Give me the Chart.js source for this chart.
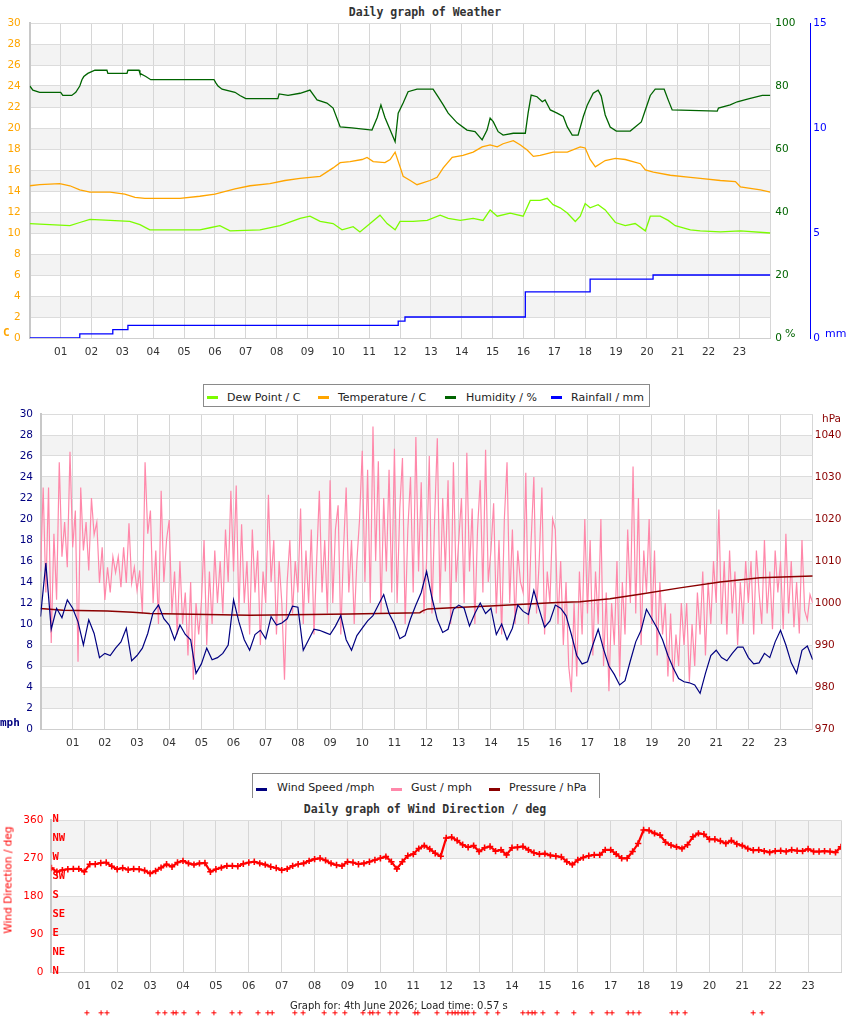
<!DOCTYPE html>
<html>
<head>
<meta charset="utf-8">
<title>Daily graph of Weather</title>
<script src="https://cdn.jsdelivr.net/npm/chart.js@4.4.1/dist/chart.umd.min.js"></script>
<style>
  body { margin: 0; background: #fff; font-family: 'DejaVu Sans', sans-serif; }
  #page { position: relative; width: 850px; height: 1017px; overflow: hidden; }
  canvas { position: absolute; left: 0; }
  .titulo { position: absolute; left: 0; width: 850px; text-align: center; font: bold 11.5px 'DejaVu Sans Mono', monospace; line-height: 13px; color: #333; }
  .legenda { position: absolute; box-sizing: border-box; background: #fff; border: 1px solid #8a8a8a; font-size: 11px; line-height: 13px; color: #222; }
  .legenda span { position: absolute; white-space: nowrap; }
  .legenda i { position: absolute; width: 11px; height: 3px; }
  .unid { position: absolute; font-size: 11px; line-height: 13px; font-weight: normal; white-space: nowrap; }
</style>
</head>
<body>
<div id="page">
  <div class="titulo" style="top:6px">Daily graph of Weather</div>
  <canvas id="chartTempo" width="850" height="365" style="top:0"></canvas>
  <div class="unid" style="left:3px;top:326px;color:#ffa500;font-weight:bold;font-family:'DejaVu Sans Mono'">C</div>
  <div class="unid" style="left:785px;top:327px;color:#006400">%</div>
  <div class="unid" style="left:825px;top:327px;color:#0000ff">mm</div>

  <canvas id="chartVento" width="850" height="360" style="top:400px"></canvas>
  <div class="unid" style="left:0;top:716px;color:#000080;font-weight:bold;font-family:'DejaVu Sans Mono'">mph</div>
  <div class="unid" style="left:822px;top:412px;color:#8b0000;font-size:10.5px">hPa</div>

  <div class="legenda" style="left:203px;top:384px;width:447px;height:23px">
    <i style="left:3px;top:11px;background:#7cfc00"></i><span style="left:23px;top:6px">Dew Point / C</span>
    <i style="left:114px;top:11px;background:#ffa500"></i><span style="left:134px;top:6px">Temperature / C</span>
    <i style="left:241px;top:11px;background:#006400"></i><span style="left:262px;top:6px">Humidity / %</span>
    <i style="left:347px;top:11px;background:#0000ff"></i><span style="left:367px;top:6px">Rainfall / mm</span>
  </div>

  <div class="legenda" style="left:252px;top:773px;width:348px;height:25px;border-bottom:none">
    <i style="left:3px;top:14px;background:#000080"></i><span style="left:24px;top:7px">Wind Speed /mph</span>
    <i style="left:138px;top:14px;background:#ff88aa"></i><span style="left:158px;top:7px">Gust / mph</span>
    <i style="left:236px;top:14px;background:#8b0000"></i><span style="left:256px;top:7px">Pressure / hPa</span>
  </div>

  <div class="titulo" style="top:803px">Daily graph of Wind Direction / deg</div>
  <canvas id="chartDirecao" width="850" height="212" style="top:805px"></canvas>
  <div class="unid" style="left:8px;top:880px;color:#f00;font-size:10.5px;transform:translate(-50%,-50%) rotate(-90deg)">Wind Direction / deg</div>
  <div class="unid" style="left:290px;top:999px;color:#222;font-size:10px">Graph for: 4th June 2026; Load time: 0.57 s</div>
</div>

<script>
const hourLabels = ['01','02','03','04','05','06','07','08','09','10','11','12','13','14','15','16','17','18','19','20','21','22','23']

// Painel 1 - [hora, valor]
const dewPoint = [[0,10.9],[0.65,10.8],[1.3,10.7],[1.62,11.0],[1.95,11.3],[2.6,11.2],[3.24,11.1],[3.57,10.8],[3.89,10.3],[5.51,10.3],[5.84,10.5],[6.16,10.7],[6.49,10.2],[7.46,10.3],[8.11,10.7],[8.76,11.4],[9.08,11.6],[9.41,11.1],[9.83,10.9],[10.12,10.3],[10.48,10.6],[10.7,10.1],[11.03,10.9],[11.35,11.7],[11.58,10.9],[11.84,10.3],[12.0,11.1],[12.42,11.1],[12.88,11.2],[13.3,11.7],[13.56,11.4],[13.95,11.2],[14.37,11.4],[14.69,11.2],[14.92,12.2],[15.15,11.6],[15.57,11.9],[15.99,11.6],[16.22,13.1],[16.54,13.1],[16.77,13.3],[16.96,12.7],[17.19,12.4],[17.42,11.9],[17.68,11.1],[17.84,11.6],[18.0,12.8],[18.16,12.4],[18.42,12.7],[18.65,12.2],[18.98,11.0],[19.3,10.7],[19.62,10.9],[19.95,10.2],[20.11,11.6],[20.43,11.6],[20.69,11.2],[20.92,10.7],[21.41,10.3],[21.73,10.2],[22.38,10.1],[23.03,10.2],[24,10.0]]
const temperature = [[0,14.5],[0.32,14.6],[0.97,14.7],[1.3,14.5],[1.62,14.1],[1.95,13.9],[2.6,13.9],[3.08,13.7],[3.41,13.4],[3.73,13.3],[4.87,13.3],[5.51,13.5],[6.0,13.7],[6.65,14.2],[7.14,14.5],[7.78,14.7],[8.27,15.0],[8.76,15.2],[9.41,15.4],[9.83,16.2],[10.06,16.7],[10.38,16.8],[10.77,17.0],[10.93,17.2],[11.13,16.8],[11.51,16.7],[11.68,17.0],[11.84,17.7],[12.0,16.3],[12.1,15.4],[12.33,15.0],[12.55,14.6],[12.97,15.0],[13.2,15.3],[13.4,16.2],[13.69,17.2],[14.04,17.4],[14.37,17.7],[14.66,18.2],[14.92,18.4],[15.15,18.2],[15.34,18.5],[15.67,18.8],[15.89,18.4],[16.12,17.9],[16.32,17.3],[16.54,17.4],[16.96,17.7],[17.42,17.7],[17.84,18.2],[18.0,18.1],[18.16,17.0],[18.33,16.3],[18.65,16.9],[18.98,17.1],[19.3,17.0],[19.79,16.6],[19.95,16.0],[20.21,15.8],[20.76,15.5],[21.41,15.3],[21.73,15.2],[22.38,15.0],[22.87,14.9],[23.03,14.4],[23.68,14.1],[24,13.9]]
const humidity = [[0,80],[0.1,78.7],[0.32,78],[1.0,78],[1.07,77],[1.36,77],[1.49,78],[1.62,80],[1.69,82],[1.75,83],[1.88,84],[2.11,85],[2.5,85],[2.53,84],[3.15,84],[3.18,85],[3.54,85],[3.57,84],[3.76,83],[3.92,82],[5.97,82],[6.03,81],[6.1,80],[6.23,79],[6.65,78],[6.81,77],[7.0,76],[8.04,76],[8.08,77.5],[8.37,77],[8.76,77.7],[9.08,78.7],[9.31,75.6],[9.63,74.6],[9.83,73],[10.06,67],[10.44,66.7],[11.09,66],[11.26,70],[11.38,74],[11.51,70],[11.68,66],[11.84,62.3],[11.94,71.4],[12.1,74.6],[12.26,78.2],[12.55,79],[13.07,79],[13.23,76.6],[13.4,74],[13.56,71.4],[13.85,68.3],[14.17,66],[14.43,65.5],[14.66,62.9],[14.82,66],[14.92,69.8],[15.02,68.7],[15.18,65.5],[15.34,64.4],[15.67,65],[16.06,65],[16.15,71.4],[16.25,77.1],[16.44,76.6],[16.61,75],[16.7,75.6],[16.87,72.4],[17.09,71.4],[17.29,70.3],[17.42,67],[17.58,64.4],[17.77,64.4],[17.94,70.3],[18.07,74],[18.26,77.7],[18.42,78.7],[18.52,76.8],[18.65,70.8],[18.81,67],[19.01,65.7],[19.46,65.7],[19.66,67.3],[19.82,68.6],[19.95,72.4],[20.11,77],[20.27,79],[20.56,79],[20.69,75.6],[20.82,72.4],[22.28,72],[22.32,73],[22.7,74],[22.93,75],[23.32,76],[23.74,77],[24,77]]
const rainfall = [[0,0],[1.62,0.2],[2.69,0.4],[3.18,0.6],[11.94,0.8],[12.16,1.0],[16.06,2.2],[18.16,2.8],[20.2,3.0],[24,3.0]]

// Painel 2 - rajada a cada 5 min, vento a cada 10 min
const gust = [
  15,23,13,23,8.2,18.6,12.3,25.4,16.4,19.7,15.4,26.4,
  17.3,20.8,6.4,23,17,19.7,15.1,22,18.5,19.7,13.9,17.3,
  12.3,15.4,13,16.4,14.9,16.4,13.5,17.3,13.9,19.6,13.9,15.4,
  13.2,15.1,11,25.4,18.6,20.8,12,17,10,22.7,14,18,
  19.9,11,15,9,16,10,13,7,14,4.7,12,9,
  12,18,8,15,10,17,12,16,11,19,14,22.7,
  15,23.2,11,19.5,12,16,9,19,13,17,8,15,
  12,22.3,14,18,9,16,12,4.7,14,18,11,16,
  13,21,10,17,12,19,9,16,22.7,13,18,11,
  23.7,12,19,21.3,9,17,23,13,18,10,16,20,
  26.5,14,24.7,12,28.8,16,25.5,11,22,15,24.7,13,
  26.7,12,21,25.8,10,19,24,13,27.8,15,23.5,11,
  16,26,11,20,27.7,12,22,15,23.7,10,25.4,14,
  18,22,12,26.3,15,21,10,19,23.7,13,26.6,14,
  17,21.5,11,18,9,20,25.4,12,19,10,17,14,
  13,24.4,10,18,24,11,16,23,9,15,12,20,
  19,10,16,8,14,6,3.5,12,5,15,9,20,
  11,18,7,15,10,20,6,13,3.6,12,8,16,
  5,14,9,19,12,25,11,22,8,17,13,20,
  10,17,7,14,9,12,5,11,4.5,9,6,12,
  8,12,4.5,10,6,13,9,15,7,14,10,16,
  12,20.9,10,16,9,17,11,15,8,14,10,16,
  12,16,9,17,13,10,18,11,15,9.5,17,13,
  16,9.5,18.6,11,16,9.7,14,9.1,18,11.3,10.4,12.8,
  12
]
const windSpeed = [
  10.7,15.8,9.5,11.5,10.6,12.3,
  11.5,10.2,8.0,10.4,9.1,6.8,
  7.2,7.0,7.7,8.3,9.6,6.5,
  7.0,7.7,9.1,11.1,11.8,10.5,
  9.9,8.5,9.9,9.0,8.5,5.3,
  6.2,7.7,6.6,6.8,7.2,8.0,
  12.3,10.2,8.5,7.5,9.0,9.4,
  8.6,10.7,9.9,10.1,10.5,11.7,
  11.6,7.5,8.5,9.5,9.4,9.2,
  9.0,9.8,10.8,8.5,7.5,8.9,
  9.6,10.3,10.8,11.8,12.8,11.0,
  10.0,8.6,8.9,10.5,11.8,13.0,
  15.0,12.5,10.4,9.2,9.5,11.4,
  11.8,11.5,9.8,11.0,12.0,11.0,
  11.5,9.0,10.0,8.5,9.6,11.8,
  11.2,10.9,13.2,11.4,9.7,10.3,
  11.8,11.5,10.8,9.0,7.0,6.2,
  6.4,8.0,9.5,7.6,6.0,5.2,
  4.2,4.6,6.5,8.3,9.4,11.4,
  10.5,9.6,8.5,7.0,5.8,4.8,
  4.5,4.4,4.2,3.4,5.3,7.0,
  7.5,6.8,6.5,7.2,7.8,7.8,
  6.8,6.2,6.3,7.2,6.8,8.3,
  9.4,8.0,6.3,5.3,7.5,7.9,
  6.6
]
const pressure = [[0,998.7],[0.7,998.3],[2.07,998.1],[2.87,997.8],[3.4,997.5],[6.51,997.1],[9.62,997.4],[11.79,997.7],[11.89,998.2],[12.04,998.6],[12.94,998.9],[13.97,999.3],[16.05,1000.1],[16.77,1000.3],[17.7,1001],[18.63,1002.1],[19.87,1003.6],[21.12,1005],[22.36,1006],[24,1006.4]]

// Painel 3 - direção a cada 10 min
const windDir = [
  247,238,242,244,245,245,
  238,256,256,259,260,251,
  244,247,243,245,244,241,
  234,240,248,256,250,260,
  264,258,255,258,259,238,
  244,248,252,252,251,257,
  260,262,258,255,250,247,
  242,245,252,256,258,264,
  268,270,265,258,254,252,
  262,260,256,258,262,266,
  270,274,262,245,262,276,
  280,293,300,292,282,275,
  318,320,312,302,296,300,
  286,295,298,287,290,278,
  295,296,298,290,283,280,
  281,277,275,273,262,255,
  266,272,276,278,278,290,
  290,280,270,270,286,305,
  337,336,329,325,308,301,
  297,293,302,321,329,327,
  315,315,311,305,312,304,
  300,293,289,290,287,284,
  287,288,286,290,288,287,
  292,286,286,287,286,284,
  297
]
const calmHours = [1.08,1.51,1.69,3.24,3.45,3.70,3.79,4.03,4.46,4.94,5.49,5.73,6.28,6.58,6.71,7.40,7.65,8.29,8.62,8.92,9.47,9.68,9.77,9.93,10.29,10.50,11.05,11.14,11.72,12.05,12.18,12.27,12.36,12.48,12.57,12.66,12.84,13.24,13.57,14.33,14.49,14.61,14.70,14.94,15.37,15.88,16.43,16.89,17.04,17.53,17.68,17.86,18.86,19.02,19.26,21.33,21.60]
const calmLevel = -96
const compassLabels = ['N','NE','E','SE','S','SW','W','NW','N']

Chart.defaults.font.family = "'DejaVu Sans', sans-serif"
Chart.defaults.font.size = 10.5

const pares = arr => arr.map(([x, y]) => ({ x, y }))
const serie = (vals, passo) => vals.map((y, i) => ({ x: i * passo, y }))

// faixas cinza alternadas no fundo
const faixasPlugin = {
  id: 'faixas',
  beforeDraw(chart, args, opts) {
    const s = chart.scales[opts.axis]
    const { left, right } = chart.chartArea
    const ctx = chart.ctx
    ctx.save()
    ctx.fillStyle = '#f3f3f3'
    for (let v = opts.from; v < s.max; v += opts.every) {
      const y1 = s.getPixelForValue(v)
      const y2 = s.getPixelForValue(Math.min(v + opts.size, s.max))
      ctx.fillRect(left, y2, right - left, y1 - y2)
    }
    ctx.restore()
  }
}

// pontos cardeais dentro do gráfico de direção
const rosaPlugin = {
  id: 'rosa',
  beforeDatasetsDraw(chart) {
    const s = chart.scales.y
    const ctx = chart.ctx
    ctx.save()
    ctx.font = "bold 10.5px 'DejaVu Sans Mono', monospace"
    ctx.fillStyle = '#ff0000'
    ctx.textAlign = 'left'
    ctx.textBaseline = 'alphabetic'
    compassLabels.forEach((t, i) => ctx.fillText(t, chart.chartArea.left + 1, s.getPixelForValue(i * 45) + 1.5))
    ctx.restore()
  }
}

// marcas de calmaria abaixo do eixo (fora da área do gráfico)
const calmariaPlugin = {
  id: 'calmaria',
  afterDatasetsDraw(chart) {
    const ctx = chart.ctx
    const sx = chart.scales.x, sy = chart.scales.y
    ctx.save()
    ctx.strokeStyle = '#ff0000'
    calmHours.forEach(h => {
      Chart.helpers.drawPoint(ctx, { pointStyle: 'cross', radius: 2.5, borderWidth: 1.2 }, sx.getPixelForValue(h), sy.getPixelForValue(calmLevel))
    })
    ctx.restore()
  }
}

const eixoHoras = (pad, altura) => ({
  type: 'linear', min: 0, max: 24,
  grid: { color: '#d6d6d6', drawTicks: false },
  border: { color: '#cfcfcf' },
  ticks: { stepSize: 1, autoSkip: false, maxRotation: 0, padding: pad, color: '#333', callback: v => hourLabels[v - 1] || '' },
  afterFit: s => { s.height = altura }
})

const comuns = {
  responsive: false,
  animation: false,
  devicePixelRatio: 1,
  events: [],
  elements: { point: { radius: 0 }, line: { borderWidth: 1.3, tension: 0 } }
}

// Gráfico 1 - tempo
new Chart(document.getElementById('chartTempo'), {
  type: 'line',
  data: {
    datasets: [
      { label: 'Humidity / %', data: pares(humidity), borderColor: '#006400', yAxisID: 'yH' },
      { label: 'Temperature / C', data: pares(temperature), borderColor: '#ffa500', yAxisID: 'yT' },
      { label: 'Dew Point / C', data: pares(dewPoint), borderColor: '#7cfc00', yAxisID: 'yT' },
      { label: 'Rainfall / mm', data: pares(rainfall), borderColor: '#0000ff', yAxisID: 'yR', stepped: true }
    ]
  },
  options: {
    ...comuns,
    layout: { padding: { top: 23, left: 0, right: 0, bottom: 0 } },
    plugins: { legend: { display: false }, tooltip: { enabled: false }, faixas: { axis: 'yT', from: 2, size: 2, every: 4 } },
    scales: {
      x: eixoHoras(8, 27),
      yT: {
        position: 'left', min: 0, max: 30,
        ticks: { stepSize: 2, color: '#ffa500', padding: 9 },
        grid: { color: '#dcdcdc', drawTicks: false },
        border: { color: '#c8c8c8', width: 2 },
        afterFit: s => { s.width = 29.8 }
      },
      yH: {
        position: 'right', weight: 0, min: 0, max: 100,
        ticks: { stepSize: 20, color: '#006400', padding: 5 },
        grid: { drawOnChartArea: false, drawTicks: false },
        border: { display: false },
        afterFit: s => { s.width = 40 }
      },
      yR: {
        position: 'right', weight: 1, min: 0, max: 15,
        ticks: { stepSize: 5, color: '#0000ff', padding: 3 },
        grid: { drawOnChartArea: false, drawTicks: false },
        border: { color: '#0000ff', width: 1 },
        afterFit: s => { s.width = 39.7 }
      }
    }
  },
  plugins: [faixasPlugin]
})

// Gráfico 2 - vento e pressão
new Chart(document.getElementById('chartVento'), {
  type: 'line',
  data: {
    datasets: [
      { label: 'Wind Speed /mph', data: serie(windSpeed, 1 / 6), borderColor: '#000080', borderWidth: 1.2, yAxisID: 'yW' },
      { label: 'Pressure / hPa', data: pares(pressure), borderColor: '#8b0000', borderWidth: 1.5, yAxisID: 'yP' },
      { label: 'Gust / mph', data: serie(gust, 1 / 12), borderColor: '#ff88aa', borderWidth: 1.2, yAxisID: 'yW' }
    ]
  },
  options: {
    ...comuns,
    layout: { padding: { top: 14, left: 0, right: 0, bottom: 0 } },
    plugins: { legend: { display: false }, tooltip: { enabled: false }, faixas: { axis: 'yW', from: 2, size: 2, every: 4 } },
    scales: {
      x: eixoHoras(7.5, 31),
      yW: {
        position: 'left', min: 0, max: 30,
        ticks: { stepSize: 2, color: '#000080', padding: 7.5 },
        grid: { color: '#dcdcdc', drawTicks: false },
        border: { color: '#c8c8c8', width: 2 },
        afterFit: s => { s.width = 40.5 }
      },
      yP: {
        position: 'right', min: 970, max: 1045,
        ticks: { stepSize: 10, includeBounds: false, color: '#8b0000', padding: 2, callback: v => String(v) },
        grid: { drawOnChartArea: false, drawTicks: false },
        border: { display: false },
        afterFit: s => { s.width = 37.3 }
      }
    }
  },
  plugins: [faixasPlugin]
})

// Gráfico 3 - direção do vento
new Chart(document.getElementById('chartDirecao'), {
  type: 'line',
  data: {
    datasets: [
      { label: 'Wind Direction / deg', data: serie(windDir, 1 / 6), borderColor: '#ff0000', borderWidth: 2.2, pointStyle: 'cross', pointRadius: 3.2, pointBorderColor: '#ff0000', pointBorderWidth: 1.6 }
    ]
  },
  options: {
    ...comuns,
    layout: { padding: { top: 15.3, left: 0, right: 9, bottom: 0 } },
    plugins: { legend: { display: false }, tooltip: { enabled: false }, faixas: { axis: 'y', from: 90, size: 90, every: 180 } },
    scales: {
      x: eixoHoras(8, 44.7),
      y: {
        position: 'left', min: 0, max: 360,
        ticks: { stepSize: 90, color: '#ff0000', padding: 8 },
        grid: { color: '#dcdcdc', drawTicks: false },
        border: { color: '#c8c8c8', width: 2 },
        afterFit: s => { s.width = 51.4 }
      }
    }
  },
  plugins: [faixasPlugin, rosaPlugin, calmariaPlugin]
})
</script>
</body>
</html>
